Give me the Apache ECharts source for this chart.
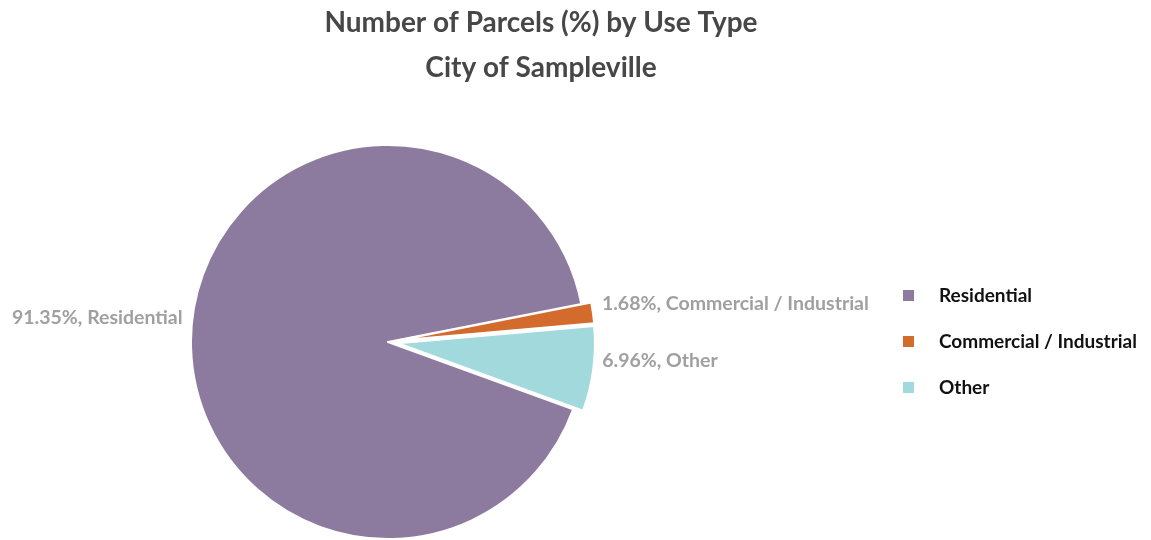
<!DOCTYPE html>
<html>
<head>
<meta charset="utf-8">
<script src="https://cdn.jsdelivr.net/npm/echarts@6/dist/echarts.min.js"></script>
<style>
  html, body { margin: 0; padding: 0; background: #fff; }
  #main { width: 1151px; height: 540px; }
</style>
</head>
<body>
<div id="main"></div>
<script>
  // data
  const categories = ['Residential', 'Commercial / Industrial', 'Other'];
  const shares = [91.35, 1.68, 6.96];
  const colors = ['#8d7b9f', '#d36b2c', '#a2d9dc'];
  const sliced = [false, true, true];

  const chart = echarts.init(document.getElementById('main'));
  chart.setOption({
    color: colors,
    textStyle: { fontFamily: 'Lato' },
    title: {
      text: 'Number of Parcels (%) by Use Type\nCity of Sampleville',
      left: 536,
      textAlign: 'center',
      top: -5,
      textStyle: {
        fontFamily: 'Lato',
        fontSize: 28,
        fontWeight: 'bold',
        color: '#474747',
        lineHeight: 45
      }
    },
    legend: {
      orient: 'vertical',
      left: 896,
      top: 281,
      itemWidth: 13,
      itemHeight: 13,
      itemGap: 27,
      icon: 'rect',
      textStyle: {
        fontFamily: 'Lato',
        fontSize: 19,
        fontWeight: 'bold',
        color: '#111',
        padding: [0, 0, 0, 19]
      },
      data: categories
    },
    series: [{
      type: 'pie',
      center: [388, 342],
      radius: 197,
      startAngle: -20,
      clockwise: true,
      selectedMode: 'multiple',
      selectedOffset: 10,
      avoidLabelOverlap: false,
      itemStyle: { borderColor: '#fff', borderWidth: 2 },
      label: {
        show: true,
        position: 'outside',
        formatter: '{c}%, {b}',
        fontFamily: 'Lato',
        fontSize: 19.5,
        fontWeight: 'bold',
        color: '#a0a0a0'
      },
      labelLine: { show: false, length: 4, length2: 0 },
      labelLayout: { dy: -9 },
      emphasis: { disabled: true },
      data: categories.map((name, i) => ({
        name: name,
        value: shares[i],
        selected: sliced[i]
      }))
    }]
  });
</script>
</body>
</html>
